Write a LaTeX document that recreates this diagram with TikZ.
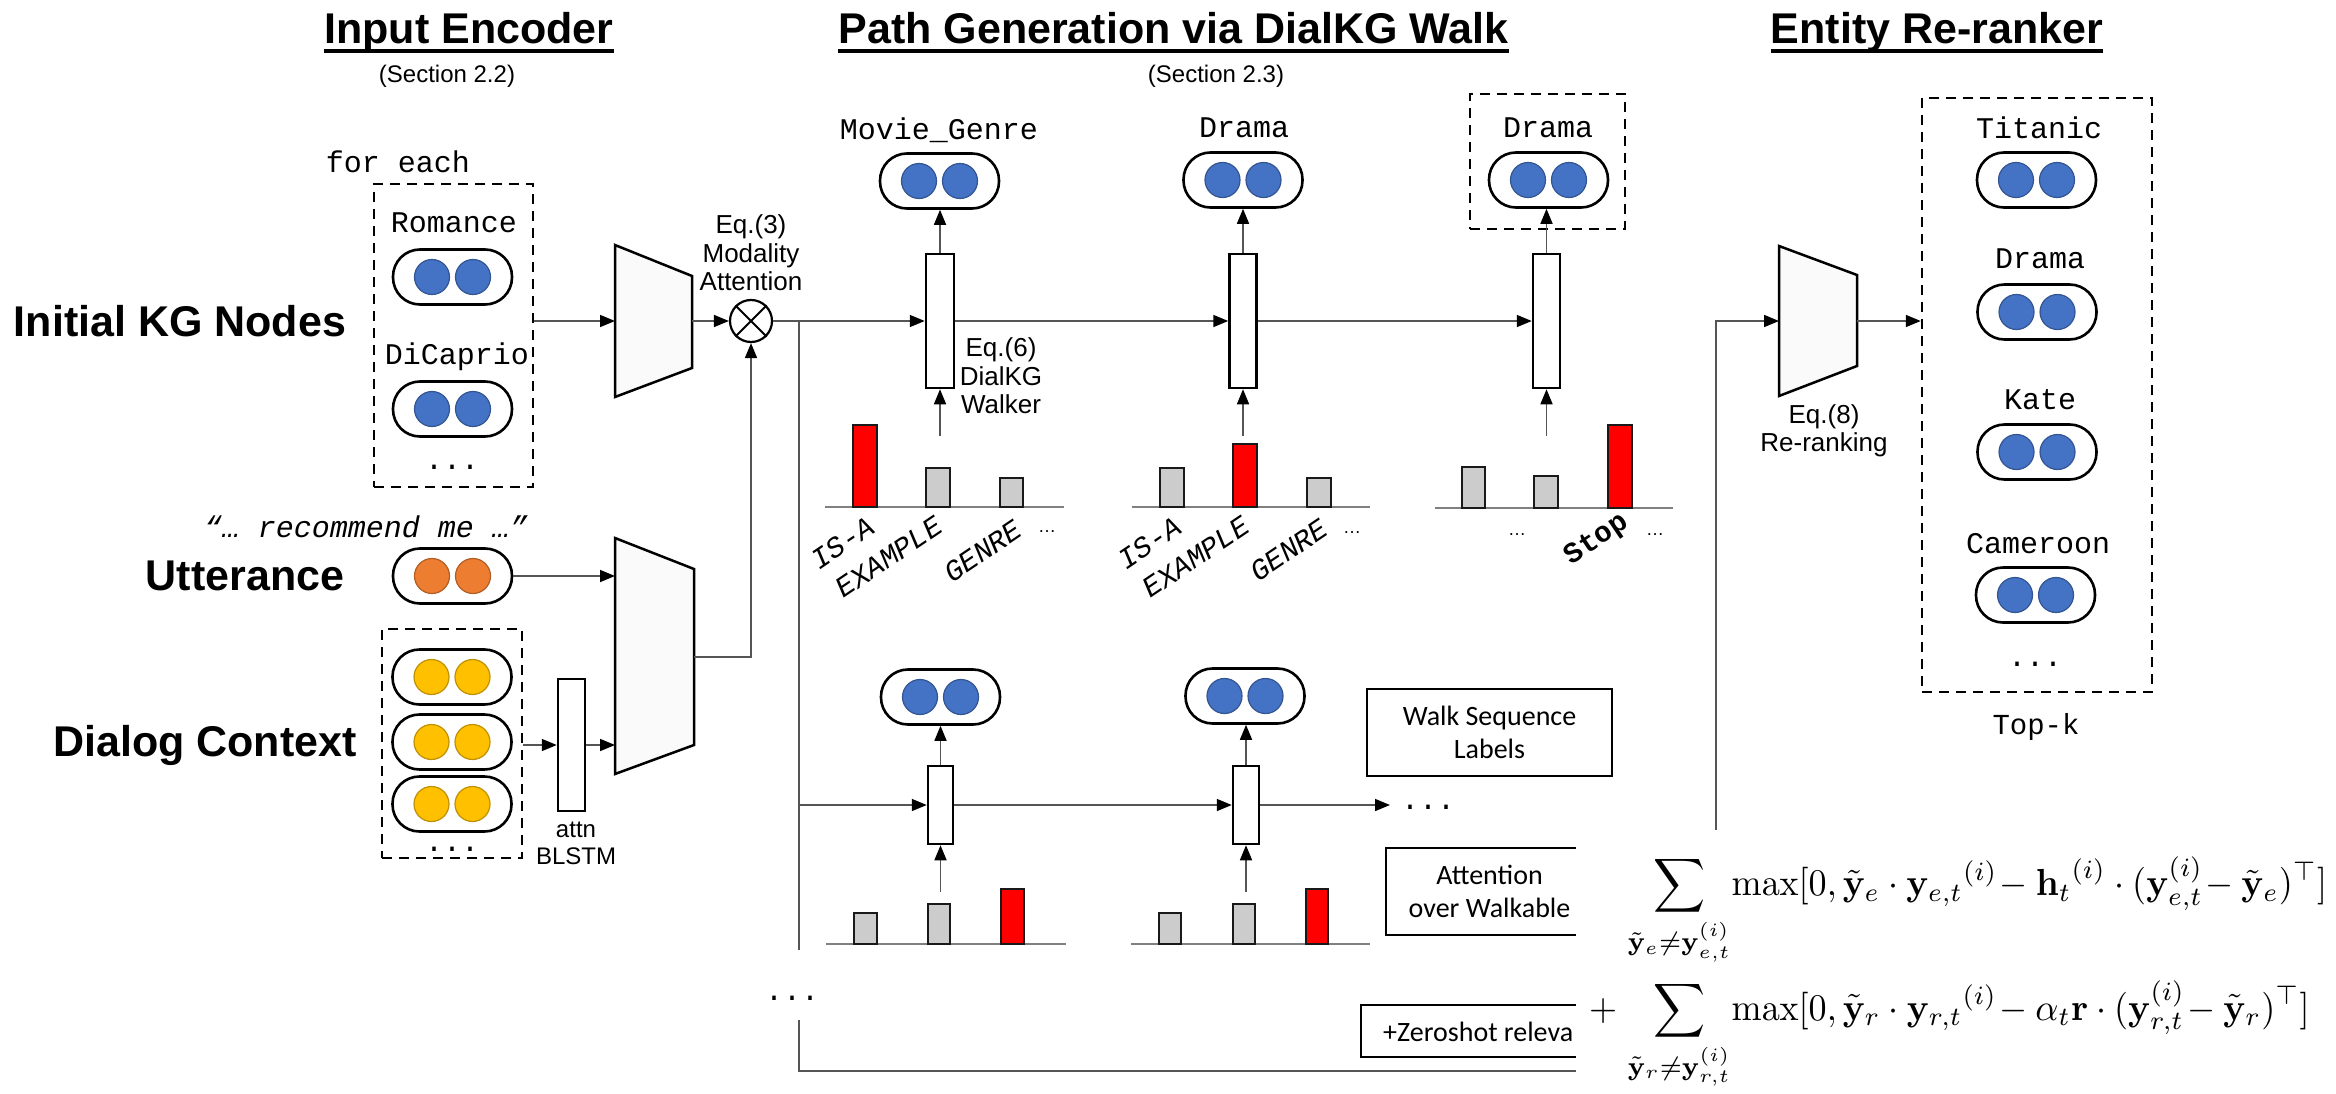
\documentclass[tikz,border=0pt]{standalone}
\usepackage[no-math]{fontspec}
\setmainfont{Liberation Sans}
\newfontfamily\monof{Liberation Mono}
\newfontfamily\calibf{Carlito}
\usepackage{amsmath,amssymb,mathtools}
\usepackage{graphicx}
\usetikzlibrary{arrows.meta}

\definecolor{cblue}{HTML}{4472C4}
\definecolor{corange}{HTML}{ED7D31}
\definecolor{cyellow}{HTML}{FFC000}
\definecolor{cred}{HTML}{FF0000}
\definecolor{cgray}{HTML}{CCCCCC}
\definecolor{cline}{HTML}{555555}

\tikzset{
  conn/.style={line width=1.6pt, draw=cline},
  arr/.style={conn, -{Triangle[length=15pt,width=12pt,color=black]}},
  pillbox/.style={draw, line width=2.6pt, fill=white, rounded corners=27pt, minimum width=119pt, minimum height=55pt, inner sep=0pt},
  pdot/.style={circle, minimum size=35pt, inner sep=0pt, fill=#1, draw=#1!75!black, line width=1.2pt},
  dbox/.style={draw, line width=2.5pt, dash pattern=on 10pt off 7pt, inner sep=0pt},
  cellbox/.style={draw, line width=2.5pt, fill=white, inner sep=0pt},
  trapz/.style={draw, line width=2.5pt, fill=black!2},
  barr/.style={draw=black!90, line width=2.4pt, fill=cred},
  barg/.style={draw=black!90, line width=2.4pt, fill=cgray},
  baseln/.style={draw=black!50, line width=2.5pt},
  headlbl/.style={font=\bfseries\fontsize{43}{50}\selectfont, inner sep=0pt, anchor=base},
  sidelbl/.style={font=\bfseries\fontsize{43}{50}\selectfont, inner sep=0pt},
  lblsmall/.style={font=\fontsize{24}{28.5}\selectfont, align=center, inner sep=0pt},
  eqlbl/.style={font=\fontsize{26}{28.5}\selectfont, align=center, inner sep=0pt},
  monolbl/.style={font=\monof\fontsize{30}{34}\selectfont, inner sep=0pt},
  rlab/.style={font=\monof\itshape\fontsize{29}{32}\selectfont, inner sep=0pt},
  elips/.style={font=\fontsize{18}{20}\selectfont, inner sep=0pt},
  calbox/.style={draw, line width=2.2pt, fill=white, font=\calibf\fontsize{28}{33}\selectfont, align=center, inner sep=0pt},
}

\newcommand\mkpill[4]{%
  \node[pillbox] (#1) at (#2,#3) {};
  \node[pdot=#4] (#1a) at ([xshift=-20.5pt]#1.center) {};
  \node[pdot=#4] (#1b) at ([xshift=20.5pt]#1.center) {};
}
\newcommand\tilt[1]{\rotatebox{34}{#1}}

\begin{document}
\begin{tikzpicture}[x=1pt,y=-1pt]
\useasboundingbox (0,0) rectangle (2336,1094);
\fill[white] (0,0) rectangle (2336,1094);

% ---------------- titles
\node[headlbl] (t1) at (469,44) {Input Encoder};
\draw[line width=4pt] ([yshift=-7pt]t1.base west) -- ([yshift=-7pt]t1.base east);
\node[lblsmall] (s1) at (447,76) {(Section 2.2)};
\node[headlbl] (t2) at (1173.5,44) {Path Generation via DialKG Walk};
\draw[line width=4pt] ([yshift=-7pt]t2.base west) -- ([yshift=-7pt]t2.base east);
\node[lblsmall] (s2) at (1216,76) {(Section 2.3)};
\node[headlbl] (t3) at (1937,44) {Entity Re-ranker};
\draw[line width=4pt] ([yshift=-7pt]t3.base west) -- ([yshift=-7pt]t3.base east);

% ---------------- input encoder: KG nodes
\node[monolbl] (foreach) at (398,162) {for each};
\node[dbox, minimum width=159pt, minimum height=303pt] (kgbox) at (453.5,335.5) {};
\node[monolbl] (romance) at (454,223) {Romance};
\mkpill{p1}{452.5}{277}{cblue}
\node[monolbl] (dicaprio) at (457,357) {DiCaprio};
\mkpill{p2}{452.5}{409}{cblue}
\node[monolbl, anchor=base] (kgdots) at (452,469) {...};
\node[sidelbl] (kglab) at (180,321) {Initial KG Nodes};

\coordinate (e1a) at (615,245); \coordinate (e1b) at (692,276);
\coordinate (e1c) at (692,368); \coordinate (e1d) at (615,397);
\coordinate (e1in) at (615,321); \coordinate (e1out) at (692,321);
\draw[trapz] (e1a) -- (e1b) -- (e1c) -- (e1d) -- cycle;

\node[circle, draw, line width=2.2pt, minimum size=42pt, inner sep=0pt, fill=white] (mod) at (751,321) {};
\draw[line width=2pt] (mod.north east) -- (mod.south west) (mod.north west) -- (mod.south east);
\node[eqlbl] (eq3) at (751,253) {Eq.(3)\\Modality\\Attention};

\draw[arr] (kgbox.east |- e1in) -- (e1in);
\draw[arr] (e1out) -- (mod.west);

% ---------------- utterance
\node[monolbl, font=\monof\itshape\fontsize{30}{34}\selectfont] (quote) at (366,527) {“… recommend me …”};
\node[sidelbl] (utlab) at (245,576) {Utterance};
\mkpill{pu}{452.5}{576}{corange}

\coordinate (e2a) at (615,538); \coordinate (e2b) at (694,569);
\coordinate (e2c) at (694,745); \coordinate (e2d) at (615,774);
\coordinate (e2in1) at (615,576); \coordinate (e2in2) at (615,745);
\coordinate (e2out) at (694,657);
\draw[trapz] (e2a) -- (e2b) -- (e2c) -- (e2d) -- cycle;
\draw[arr] (pu.east) -- (e2in1);
\coordinate (e2turn) at (mod.south |- e2out);
\draw[arr] (e2out) -- (e2turn) -- (mod.south);

% ---------------- dialog context
\node[dbox, minimum width=140pt, minimum height=229pt] (ctxbox) at (452,743.5) {};
\mkpill{c1}{452}{677}{cyellow}
\mkpill{c2}{452}{742}{cyellow}
\mkpill{c3}{452}{804}{cyellow}
\node[monolbl, anchor=base] (ctxdots) at (452,851) {...};
\node[sidelbl] (ctxlab) at (205,745) {Dialog Context};
\node[cellbox, minimum width=27pt, minimum height=132pt] (blstm) at (571.5,745) {};
\draw[arr] (ctxbox.east |- blstm.west) -- (blstm.west);
\draw[arr] (blstm.east) -- (e2in2);
\node[lblsmall, font=\fontsize{24}{27}\selectfont] (attnlab) at (576,843) {attn\\BLSTM};

% ---------------- path generation: upper walk
\node[cellbox, minimum width=28pt, minimum height=134pt] (w1) at (940,321) {};
\node[cellbox, minimum width=27pt, minimum height=134pt] (w2) at (1243,321) {};
\node[cellbox, minimum width=27pt, minimum height=134pt] (w3) at (1546.5,321) {};
\draw[arr] (mod.east) -- (w1.west);
\draw[arr] (w1.east) -- (w2.west);
\draw[arr] (w2.east) -- (w3.west);

\node[monolbl] (mg) at (939,130) {Movie\_Genre};
\mkpill{pw1}{939.5}{181}{cblue}
\node[monolbl] (dr1) at (1244,128) {Drama};
\mkpill{pw2}{1243}{180}{cblue}
\node[dbox, minimum width=155pt, minimum height=135pt] (stopbox) at (1547.5,161.5) {};
\node[monolbl] (dr2) at (1548,128) {Drama};
\mkpill{pw3}{1548.5}{180}{cblue}
\draw[arr] (w1.north) -- (pw1.south -| w1.north);
\draw[arr] (w2.north) -- (pw2.south -| w2.north);
\draw[arr] (w3.north) -- (pw3.south -| w3.north);
\coordinate (a1) at (940,436); \coordinate (a2) at (1243,436); \coordinate (a3) at (1546.5,436);
\draw[arr] (a1) -- (w1.south);
\draw[arr] (a2) -- (w2.south);
\draw[arr] (a3) -- (w3.south);
\node[eqlbl] (eq6) at (1001,376) {Eq.(6)\\DialKG\\Walker};

% bars, group 1
\draw[baseln] (825,507) -- (1064,507);
\draw[barr] (853,425) rectangle (877,507);
\draw[barg] (926,468) rectangle (950,507);
\draw[barg] (1000,478) rectangle (1023,507);
\node[rlab] (l1a) at (843,543) {\tilt{IS-A}};
\node[rlab] (l1b) at (889,557) {\tilt{EXAMPLE}};
\node[rlab] (l1c) at (983,551) {\tilt{GENRE}};
\node[elips] (l1d) at (1047,532) {…};
% bars, group 2
\draw[baseln] (1132,507) -- (1370,507);
\draw[barg] (1160,468) rectangle (1184,507);
\draw[barr] (1233,444) rectangle (1257,507);
\draw[barg] (1307,478) rectangle (1331,507);
\node[rlab] (l2a) at (1150,543) {\tilt{IS-A}};
\node[rlab] (l2b) at (1196,557) {\tilt{EXAMPLE}};
\node[rlab] (l2c) at (1289,550) {\tilt{GENRE}};
\node[elips] (l2d) at (1352,533) {…};
% bars, group 3
\draw[baseln] (1435,508) -- (1673,508);
\draw[barg] (1462,467) rectangle (1485,508);
\draw[barg] (1534,476) rectangle (1558,508);
\draw[barr] (1608,425) rectangle (1632,508);
\node[elips] (l3a) at (1517,535) {…};
\node[rlab, font=\monof\bfseries\fontsize{29}{32}\selectfont] (l3b) at (1597,540) {\tilt{Stop}};
\node[elips] (l3c) at (1655,535) {…};

% ---------------- lower walk
\coordinate (br0) at (799,321); \coordinate (br1) at (799,950);
\draw[conn] (br0) -- (br1);
\node[monolbl, anchor=base] (brdots) at (792,1000) {...};
\coordinate (br2) at (799,1020); \coordinate (br3) at (799,1071); \coordinate (br4) at (1600,1071);
\draw[conn] (br2) -- (br3) -- (br4);

\node[cellbox, minimum width=25pt, minimum height=78pt] (v1) at (940.5,805) {};
\node[cellbox, minimum width=26pt, minimum height=78pt] (v2) at (1246,805) {};
\coordinate (br5) at (799,805);
\draw[arr] (br5) -- (v1.west);
\draw[arr] (v1.east) -- (v2.west);
\coordinate (vend) at (1390,805);
\draw[arr] (v2.east) -- (vend);
\node[monolbl, anchor=base] (vdots) at (1428,809) {...};
\mkpill{pv1}{940.5}{697}{cblue}
\mkpill{pv2}{1245}{696}{cblue}
\draw[arr] (v1.north) -- (pv1.south -| v1.north);
\draw[arr] (v2.north) -- (pv2.south -| v2.north);
\coordinate (b1) at (940.5,892); \coordinate (b2) at (1246,892);
\draw[arr] (b1) -- (v1.south);
\draw[arr] (b2) -- (v2.south);

\draw[baseln] (826,944) -- (1066,944);
\draw[barg] (854,913) rectangle (877,944);
\draw[barg] (928,904) rectangle (950,944);
\draw[barr] (1001,889) rectangle (1024,944);
\draw[baseln] (1131,944) -- (1370,944);
\draw[barg] (1159,913) rectangle (1181,944);
\draw[barg] (1233,904) rectangle (1255,944);
\draw[barr] (1306,889) rectangle (1328,944);

\node[calbox, minimum width=245pt, minimum height=87pt] (walkbox) at (1489.5,732.5) {Walk Sequence\\Labels};
\node[calbox, minimum width=207pt, minimum height=87pt] (attbox) at (1489.5,891.5) {Attention\\over Walkable};
\node[calbox, minimum width=239pt, minimum height=52pt] (zerobox) at (1480.5,1031) {};
\node[anchor=west, inner sep=0pt, font=\calibf\fontsize{28}{33}\selectfont] (zerotxt) at (1383,1032) {+Zeroshot releva};

% ---------------- entity re-ranker
\coordinate (rr0) at (1716,830); \coordinate (rr1) at (1716,321);
\coordinate (e3a) at (1779,246); \coordinate (e3b) at (1857,275);
\coordinate (e3c) at (1857,366); \coordinate (e3d) at (1779,396);
\coordinate (e3in) at (1779,321); \coordinate (e3out) at (1857,321);
\draw[trapz] (e3a) -- (e3b) -- (e3c) -- (e3d) -- cycle;
\draw[arr] (rr0) -- (rr1) -- (e3in);
\node[eqlbl] (eq8) at (1824,431) {Eq.(8)\\Re-ranking};

\node[dbox, minimum width=230pt, minimum height=594pt] (rbox) at (2037,395) {};
\draw[arr] (e3out) -- (rbox.west |- e3out);
\node[monolbl] (titanic) at (2039,128) {Titanic};
\mkpill{r1}{2036.5}{180}{cblue}
\node[monolbl] (drama3) at (2040,259) {Drama};
\mkpill{r2}{2037}{312}{cblue}
\node[monolbl] (kate) at (2040,400) {Kate};
\mkpill{r3}{2037}{452}{cblue}
\node[monolbl] (cameroon) at (2038,544) {Cameroon};
\mkpill{r4}{2035.5}{595}{cblue}
\node[monolbl, anchor=base] (rdots) at (2035,666) {...};
\node[monolbl, font=\monof\fontsize{29}{33}\selectfont] (topk) at (2036,727) {Top-k};

% ---------------- formula (opaque, covers the box ends)
\fill[white] (1576,830) rectangle (2336,1094);
\node[anchor=north west, inner sep=0pt] (formula) at (1589,856) {\resizebox*{738pt}{234pt}{$\begin{aligned}
&\sum\limits_{\mathclap{\tilde{\mathbf{y}}_e\neq\mathbf{y}_{e,t}^{(i)}}}\;\;\max[0,\tilde{\mathbf{y}}_e\cdot{\mathbf{y}_{e,t}}^{(i)}\!-{\mathbf{h}_t}^{(i)}\cdot(\mathbf{y}_{e,t}^{(i)}\!-\tilde{\mathbf{y}}_e)^{\top}]\\
{+}\;\;\;&\sum\limits_{\mathclap{\tilde{\mathbf{y}}_r\neq\mathbf{y}_{r,t}^{(i)}}}\;\;\max[0,\tilde{\mathbf{y}}_r\cdot{\mathbf{y}_{r,t}}^{(i)}\!-\alpha_t\mathbf{r}\cdot(\mathbf{y}_{r,t}^{(i)}\!-\tilde{\mathbf{y}}_r)^{\top}]
\end{aligned}$}};
\end{tikzpicture}
\end{document}
